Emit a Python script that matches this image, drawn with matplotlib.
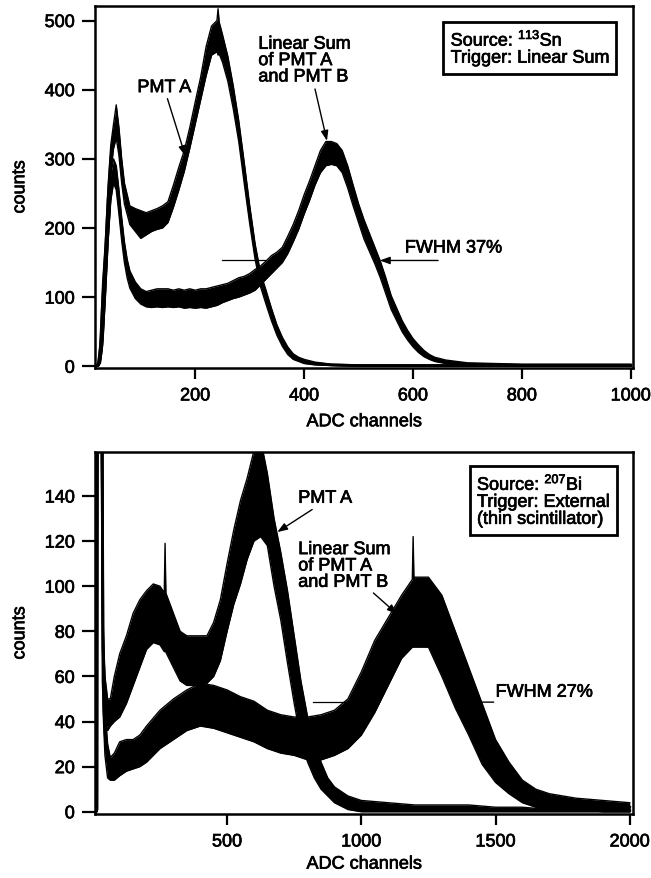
import matplotlib
matplotlib.use("Agg")
import matplotlib.pyplot as plt
import matplotlib.patheffects as pe

plt.rcParams["font.family"] = ["Liberation Sans", "DejaVu Sans"]
plt.rcParams["mathtext.default"] = "regular"

# ---- top panel: 113Sn, trigger on linear sum ----
top_a_chan = [18, 22, 26, 30, 35, 40, 45, 50, 55, 60, 65, 70, 80, 90, 100, 110, 120, 130,
              140, 150, 160, 170, 180, 190, 200, 210, 220, 230, 240, 242, 244, 250, 260,
              270, 280, 290, 300, 310, 320, 330, 340, 350, 360, 370, 380, 390, 400, 420,
              450, 500, 600, 700, 800, 900, 1000]
top_a_lo = [0, 0, 15, 70, 140, 220, 280, 315, 330, 305, 265, 235, 205, 195, 185, 190, 195, 198,
            200, 208, 230, 255, 282, 315, 350, 385, 420, 450, 455, 450, 452, 440, 412,
            372, 325, 265, 207, 155, 115, 90, 66, 45, 29, 17, 10, 7, 4, 2,
            1, 0, 0, 0, 0, 0, 0]
top_a_hi = [1, 5, 40, 120, 180, 260, 320, 350, 378, 345, 300, 265, 232, 228, 225, 222, 225, 228,
            232, 238, 262, 288, 312, 345, 382, 418, 462, 492, 500, 517, 498, 480, 448,
            405, 355, 295, 233, 177, 135, 110, 84, 60, 42, 28, 18, 13, 10, 6,
            3, 2, 2, 2, 2, 2, 2]

top_sum_chan = [18, 22, 26, 30, 35, 40, 45, 50, 55, 60, 65, 70, 75, 80, 90, 100, 110, 120, 130,
                140, 150, 160, 170, 180, 190, 200, 210, 220, 230, 240, 250, 260, 270, 280,
                290, 300, 310, 320, 330, 340, 350, 360, 370, 380, 390, 400, 410, 420, 430,
                440, 450, 460, 470, 480, 490, 500, 510, 520, 530, 540, 550, 560, 570, 580,
                590, 600, 610, 620, 630, 640, 660, 700, 800, 900, 1000]
top_sum_lo = [0, 0, 5, 30, 100, 180, 240, 265, 255, 220, 182, 150, 128, 113, 98, 90, 86, 85, 86,
              85, 86, 85, 86, 84, 85, 84, 85, 84, 86, 88, 92, 95, 98, 100,
              103, 106, 110, 118, 126, 134, 142, 150, 163, 180, 198, 220, 240, 262, 280,
              290, 292, 290, 280, 258, 232, 208, 184, 166, 148, 128, 105, 82, 66, 50,
              38, 28, 20, 14, 10, 7, 4, 1, 0, 0, 0]
top_sum_hi = [1, 3, 20, 60, 140, 220, 275, 300, 290, 255, 215, 180, 155, 138, 122, 112, 108, 110, 112,
              112, 112, 110, 112, 110, 112, 110, 112, 112, 114, 116, 118, 120, 124, 128,
              130, 134, 140, 145, 152, 160, 165, 172, 188, 205, 225, 248, 268, 290, 312,
              325, 325, 322, 312, 290, 262, 235, 212, 192, 172, 152, 128, 102, 84, 66,
              52, 40, 31, 23, 17, 13, 9, 5, 3, 3, 3]

# ---- bottom panel: 207Bi, external trigger ----
bot_a_chan = [10, 15, 17, 20, 30, 34, 38, 45, 55, 65, 80, 100, 125, 150, 175, 200, 225, 250,
              266, 269, 272, 275, 300, 325, 350, 375, 400, 425, 450, 475, 500, 525, 550,
              575, 600, 625, 650, 675, 700, 725, 750, 775, 800, 825, 850, 875, 900, 950,
              1000, 1100, 1200, 1300, 1400, 1500, 1600, 1700, 2000]
bot_a_lo = [0, 0, 150, 200, 200, 120, 60, 42, 36, 38, 40, 42, 48, 56, 64, 72, 75, 74,
            71, 71, 71, 70, 64, 58, 56, 56, 56, 57, 60, 67, 80, 92, 101,
            112, 120, 122, 118, 100, 85, 66, 48, 32, 22, 15, 10, 7, 4, 1,
            0, 0, 0, 0, 0, 0, 0, 0, 0]
bot_a_hi = [0, 2, 250, 300, 300, 250, 85, 60, 50, 50, 60, 70, 78, 88, 94, 98, 101, 100,
            97, 119, 97, 96, 88, 80, 78, 78, 78, 78, 84, 94, 110, 125, 138,
            148, 160, 165, 150, 130, 115, 98, 78, 58, 42, 30, 22, 15, 11, 7,
            5, 4, 3, 3, 3, 2, 2, 1, 1]

bot_sum_chan = [10, 15, 17, 20, 30, 34, 38, 45, 55, 65, 80, 100, 125, 150, 175, 200, 250, 300,
                350, 400, 450, 500, 550, 600, 650, 700, 750, 800, 850, 900, 950, 1000,
                1050, 1100, 1150, 1190, 1193, 1196, 1200, 1250, 1300, 1350, 1400, 1450,
                1500, 1550, 1600, 1650, 1700, 1800, 1900, 2000]
bot_sum_lo = [0, 0, 150, 200, 200, 100, 45, 25, 15, 14, 14, 16, 18, 19, 20, 22, 28, 32,
              36, 38, 37, 35, 33, 31, 28, 26, 25, 23, 23, 25, 28, 34,
              44, 56, 68, 73, 73, 73, 73, 73, 60, 46, 34, 21,
              13, 8, 4, 2, 1, 1, 0, 0]
bot_sum_hi = [0, 2, 250, 300, 300, 250, 70, 45, 30, 24, 26, 31, 32, 32, 34, 38, 45, 50,
              54, 57, 56, 54, 51, 49, 45, 43, 42, 42, 43, 45, 50, 62,
              76, 86, 96, 103, 122, 103, 104, 104, 96, 80, 64, 48,
              32, 22, 14, 10, 8, 6, 5, 4]

fig = plt.figure(figsize=(6.51, 8.79), dpi=100)
W, H = 651, 879
ax1 = fig.add_axes([95 / W, (H - 369) / H, 538 / W, 362 / H])
ax2 = fig.add_axes([95 / W, (H - 815) / H, 538 / W, 362 / H])

fs = 13
heavy = [pe.withStroke(linewidth=0.5, foreground="black")]


def spectrum(ax, chan, lo, hi):
    mid = [(a + b) / 2 for a, b in zip(lo, hi)]
    ax.fill_between(chan, lo, hi, color="black", lw=0)
    ax.plot(chan, lo, color="black", lw=1.0)
    ax.plot(chan, hi, color="black", lw=1.0)
    ax.plot(chan, mid, color="black", lw=2)


def style(ax):
    for s in ax.spines.values():
        s.set_linewidth(1.8)
    ax.tick_params(direction="out", labelsize=fs, width=1.6)
    ax.tick_params(axis="y", length=9.5, pad=5)
    ax.tick_params(axis="x", length=8, pad=6)
    for t in ax.get_xticklabels() + ax.get_yticklabels():
        t.set_path_effects(heavy)


arrow = dict(arrowstyle="-|>,head_length=0.6,head_width=0.22", color="black", lw=1,
             shrinkA=0, shrinkB=0)
box = dict(boxstyle="square,pad=0.4", fc="white", ec="black", lw=2)

# top
spectrum(ax1, top_a_chan, top_a_lo, top_a_hi)
spectrum(ax1, top_sum_chan, top_sum_lo, top_sum_hi)
ax1.set_xlim(16, 1004)
ax1.set_ylim(-2.5, 521)
ax1.set_xticks([200, 400, 600, 800, 1000])
ax1.set_yticks([0, 100, 200, 300, 400, 500])
style(ax1)
ax1.set_xlabel("ADC channels", fontsize=fs, va="top", path_effects=heavy)
ax1.xaxis.set_label_coords(0.5, -0.125)
ax1.set_ylabel("counts", fontsize=fs, path_effects=heavy)
ax1.yaxis.set_label_coords(-0.124, 0.5)

ax1.text(143, 403, "PMT A", fontsize=fs, ha="center", va="center", path_effects=heavy)
ax1.annotate("", xy=(182, 304), xytext=(149, 387), arrowprops=arrow)
ax1.text(316, 478, "Linear Sum\nof PMT A\nand PMT B", fontsize=fs, ha="left", va="top",
         linespacing=0.95, path_effects=heavy)
ax1.annotate("", xy=(442, 326), xytext=(420, 401), arrowprops=arrow)
ax1.text(585, 171, "FWHM 37%", fontsize=fs, ha="left", va="center", path_effects=heavy)
ax1.annotate("", xy=(539, 153), xytext=(646, 153), arrowprops=arrow)
ax1.plot([250, 330], [153, 153], color="black", lw=0.9)
ax1.text(0.661, 0.935, "Source: $^{113}$Sn\nTrigger: Linear Sum", transform=ax1.transAxes,
         fontsize=fs, ha="left", va="top", linespacing=1.0, path_effects=heavy, bbox=box)

# bottom
spectrum(ax2, bot_a_chan, bot_a_lo, bot_a_hi)
spectrum(ax2, bot_sum_chan, bot_sum_lo, bot_sum_hi)
ax2.set_xlim(8, 2012)
ax2.set_ylim(-1, 159.5)
ax2.set_xticks([500, 1000, 1500, 2000])
ax2.set_yticks([0, 20, 40, 60, 80, 100, 120, 140])
style(ax2)
ax2.set_xlabel("ADC channels", fontsize=fs, va="top", path_effects=heavy)
ax2.xaxis.set_label_coords(0.5, -0.115)
ax2.set_ylabel("counts", fontsize=fs, path_effects=heavy)
ax2.yaxis.set_label_coords(-0.124, 0.5)

ax2.text(765, 139, "PMT A", fontsize=fs, ha="left", va="center", path_effects=heavy)
ax2.annotate("", xy=(687, 124), xytext=(817, 134), arrowprops=arrow)
ax2.text(765, 120, "Linear Sum\nof PMT A\nand PMT B", fontsize=fs, ha="left", va="top",
         linespacing=0.95, path_effects=heavy)
ax2.annotate("", xy=(1134, 87.6), xytext=(1045, 97), arrowprops=arrow)
ax2.text(1500, 53, "FWHM 27%", fontsize=fs, ha="left", va="center", path_effects=heavy)
ax2.annotate("", xy=(1399, 48.6), xytext=(1493, 48.6), arrowprops=arrow)
ax2.plot([821, 985], [48.6, 48.6], color="black", lw=0.9)
ax2.text(0.710, 0.94, "Source: $^{207}$Bi\nTrigger: External\n(thin scintillator)",
         transform=ax2.transAxes, fontsize=fs, ha="left", va="top", linespacing=1.0,
         path_effects=heavy, bbox=box)

fig.savefig("out.png", dpi=100)
